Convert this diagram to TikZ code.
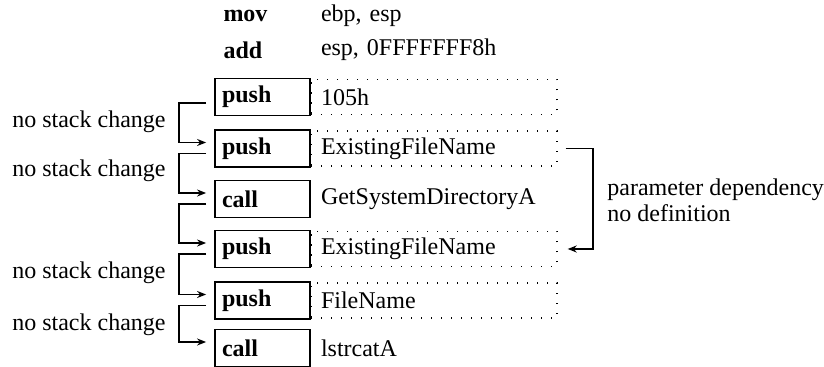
\documentclass[tikz,border=0pt]{standalone}
\usepackage{fontspec}
\setmainfont{Liberation Serif}
\usetikzlibrary{calc,arrows.meta}
\begin{document}
\begin{tikzpicture}[x=0.5pt,y=-0.5pt,
  every node/.style={font=\fontsize{12}{13}\selectfont},
  opbox/.style={draw,line width=0.9pt,text width=40.5pt,inner xsep=3.5pt,inner ysep=0pt,
    minimum height=18.5pt,align=left,font=\fontsize{12}{13}\selectfont\bfseries},
  opplain/.style={opbox,draw=none},
  argbox/.style={draw,line width=0.7pt,dash pattern=on 0.7pt off 4.3pt,text width=113pt,
    inner xsep=5pt,inner ysep=0pt,minimum height=17.5pt,align=left},
  argplain/.style={argbox,draw=none},
  conn/.style={line width=0.85pt,-{Stealth[length=4.5pt,width=3.5pt]}},
  note/.style={inner sep=0pt,anchor=east}
]
\useasboundingbox (0,0) rectangle (824,367);

% instructions: opcode column and operand column
\node[opplain] (b0a) at (264,16) {mov};
\node[argplain] (d0a) at (434,16) {ebp, esp};
\node[opplain] (b0b) at (264,50) {add};
\node[argplain] (d0b) at (434,50) {esp, 0FFFFFFF8h};

\node[opbox] (b1) at (262.5,97) {push};
\node[argbox] (d1) at (434,97) {105h};
\node[opbox] (b2) at (262.5,148.5) {push};
\node[argbox] (d2) at (434,148.5) {ExistingFileName};
\node[opbox] (b3) at (262.5,199) {call};
\node[argplain] (d3) at (434,199) {GetSystemDirectoryA};
\node[opbox] (b4) at (262.5,249) {push};
\node[argbox] (d4) at (434,249) {ExistingFileName};
\node[opbox] (b5) at (262.5,300.5) {push};
\node[argbox] (d5) at (434,300.5) {FileName};
\node[opbox] (b6) at (262.5,348) {call};
\node[argplain] (d6) at (434,348) {lstrcatA};

% sequence links on the left
\draw[conn] ($(b1.west)+(-8,6)$) -- ++(-27,0) |- ($(b2.west)+(-8,-6)$);
\draw[conn] ($(b2.west)+(-8,5)$) -- ++(-27,0) |- ($(b3.west)+(-8,-6)$);
\draw[conn] ($(b3.west)+(-8,5)$) -- ++(-27,0) |- ($(b4.west)+(-8,-6)$);
\draw[conn] ($(b4.west)+(-8,5)$) -- ++(-27,0) |- ($(b5.west)+(-8,-6)$);
\draw[conn] ($(b5.west)+(-8,5)$) -- ++(-27,0) |- ($(b6.west)+(-8,-6)$);

\node[note] (n1) at (166,122) {no stack change};
\node[note] (n2) at (166,171) {no stack change};
\node[note] (n4) at (166,273) {no stack change};
\node[note] (n5) at (166,325) {no stack change};

% dependency link on the right
\draw[conn] ($(d2.east)+(8,0)$) -- ++(27,0) |- ($(d4.east)+(10,0)$);
\node[inner sep=0pt,anchor=west,align=left] (dep) at (607,200)
  {parameter dependency\\no definition};
\end{tikzpicture}
\end{document}
